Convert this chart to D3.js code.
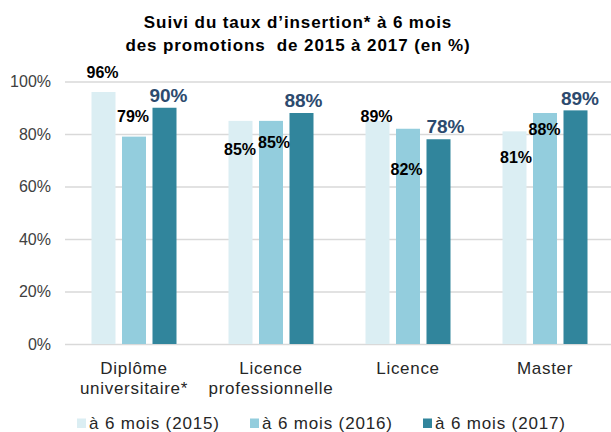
<!DOCTYPE html>
<html>
<head>
<meta charset="utf-8">
<script src="https://cdn.jsdelivr.net/npm/d3@7"></script>
<style>
  body { margin: 0; background: #fff; }
  svg { display: block; font-family: "Liberation Sans", Arial, sans-serif; }
</style>
</head>
<body>
<div id="chart"></div>
<script>
// data
const categories = [["Diplôme", "universitaire*"], ["Licence", "professionnelle"], ["Licence"], ["Master"]];
const series = ["à 6 mois (2015)", "à 6 mois (2016)", "à 6 mois (2017)"];
const v2015 = [96, 85, 85, 81];   // bar heights (Licence 2015 bar is drawn lower than its 89% label)
const v2016 = [79, 85, 82, 88];
const v2017 = [90, 88, 78, 89];
const lab2015 = ["96%", "85%", "89%", "81%"];
const lab2016 = ["79%", "85%", "82%", "88%"];
const lab2017 = ["90%", "88%", "78%", "89%"];
const yTicks = [0, 20, 40, 60, 80, 100];

const colors = ["#dbeef3", "#93cddd", "#31859c"];
const width = 611, height = 432;

const svg = d3.select("#chart").append("svg")
    .attr("width", width)
    .attr("height", height);

// scales
const x0 = d3.scaleBand().domain(d3.range(categories.length)).range([65.5, 613.5]);
const x1 = d3.scaleBand().domain(d3.range(series.length))
    .range([x0.bandwidth() / 2 - 42.5, x0.bandwidth() / 2 + 42.5])
    .paddingInner(0.213);
const y = d3.scaleLinear().domain([0, 100]).range([344, 81.5]);

// title
const title = svg.append("text")
    .attr("text-anchor", "middle")
    .attr("font-size", 17)
    .attr("font-weight", "bold")
    .attr("letter-spacing", 0.9)
    .style("white-space", "pre")
    .attr("fill", "#000");
title.append("tspan").attr("x", 298).attr("y", 28).text("Suivi du taux d’insertion* à 6 mois");
title.append("tspan").attr("x", 298).attr("y", 51).text("des promotions  de 2015 à 2017 (en %)");

// gridlines
svg.append("g")
    .attr("class", "grid")
    .attr("transform", "translate(65,0)")
    .call(d3.axisLeft(y).tickValues(yTicks).tickSize(-546).tickFormat(""))
    .call(g => g.select(".domain").remove())
    .call(g => g.selectAll("line").attr("stroke", "#d9d9d9").attr("stroke-width", 1.3));

// y axis labels
svg.append("g")
    .attr("transform", "translate(51,0)")
    .call(d3.axisLeft(y).tickValues(yTicks).tickSize(0).tickPadding(0).tickFormat(d => d + "%"))
    .call(g => g.select(".domain").remove())
    .call(g => g.selectAll("text")
        .attr("font-size", 16)
        .attr("font-family", "Liberation Sans, Arial, sans-serif")
        .attr("fill", "#404040"));

// bars
const allValues = [v2015, v2016, v2017];
const allLabels = [lab2015, lab2016, lab2017];
const barData = [];
categories.forEach((c, ci) => {
  series.forEach((s, si) => {
    barData.push({ ci, si, value: allValues[si][ci], label: allLabels[si][ci] });
  });
});

svg.append("g").selectAll("rect")
  .data(barData)
  .join("rect")
    .attr("x", d => x0(d.ci) + x1(d.si))
    .attr("y", d => y(d.value))
    .attr("width", x1.bandwidth())
    .attr("height", d => y(0) - y(d.value))
    .attr("fill", d => colors[d.si]);

// hand-placed labels, as in the original: [dx, dy] from bar top centre
const labelShift = [
  [[-1, -14], [-1, -14.6], [4, -5.8]],
  [[-0.5, 34], [3, 27], [2, -6]],
  [[-1, 1], [-1.5, 46], [7, -6]],
  [[1.5, 31.6], [-0.5, 22], [4.5, -5.4]]
];

svg.append("g").selectAll("text")
  .data(barData)
  .join("text")
    .attr("text-anchor", "middle")
    .attr("x", d => x0(d.ci) + x1(d.si) + x1.bandwidth() / 2 + labelShift[d.ci][d.si][0])
    .attr("y", d => y(d.value) + labelShift[d.ci][d.si][1])
    .attr("font-weight", "bold")
    .attr("font-size", d => d.si === 2 ? 19 : 16)
    .attr("fill", d => d.si === 2 ? "#2c4a6e" : "#000")
    .text(d => d.label);

// category labels
const catText = svg.append("g").selectAll("text")
  .data(categories)
  .join("text")
    .attr("text-anchor", "middle")
    .attr("font-size", 17)
    .attr("letter-spacing", 0.7)
    .attr("fill", "#262626");
catText.selectAll("tspan")
  .data((d, i) => d.map(t => ({ t, i })))
  .join("tspan")
    .attr("x", d => x0(d.i) + x0.bandwidth() / 2)
    .attr("y", (d, j) => 373.5 + j * 20.5)
    .text(d => d.t);

// legend
const legend = svg.append("g").selectAll("g")
  .data(series)
  .join("g")
    .attr("transform", (d, i) => `translate(${77 + i * 173},0)`);
legend.append("rect")
    .attr("y", 418.5)
    .attr("width", 9)
    .attr("height", 9.5)
    .attr("fill", (d, i) => colors[i]);
legend.append("text")
    .attr("x", 12)
    .attr("y", 429)
    .attr("font-size", 17)
    .attr("letter-spacing", 0.85)
    .attr("fill", "#262626")
    .text(d => d);
</script>
</body>
</html>
